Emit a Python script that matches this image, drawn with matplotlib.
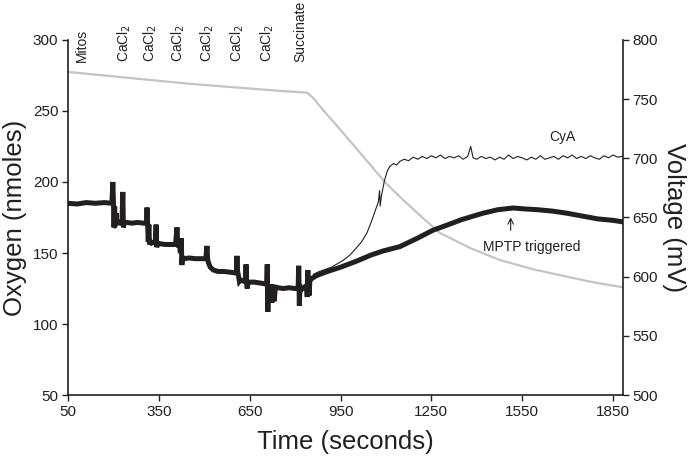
import matplotlib.pyplot as plt

plt.rcParams['font.family'] = ['Liberation Sans', 'DejaVu Sans']

# oxygen trace (nmoles), thick black
oxy_t = [50, 80, 110, 140, 170, 195, 198, 200, 202, 204, 206, 209, 211, 215, 222, 228, 231, 233, 235,
         245, 260, 280, 300, 309, 311, 313, 315, 317, 319, 322, 326, 332, 338, 341, 343, 345, 355, 370,
         390, 405, 410, 412, 415, 418, 421, 424, 426, 428, 433, 450, 470, 490, 505, 509, 511, 514, 520,
         530, 545, 565, 585, 600, 606, 608, 610, 613, 616, 620, 626, 632, 636, 638, 640, 642, 644, 650,
         665, 680, 695, 706, 708, 710, 712, 716, 719, 723, 727, 731, 735, 745, 760, 780, 800, 810, 812,
         814, 816, 820, 830, 838, 840, 842, 844, 846, 849, 855, 870, 900, 950, 1000, 1050, 1090, 1146,
         1200, 1255, 1300, 1350, 1420, 1470, 1520, 1560, 1600, 1650, 1698, 1750, 1800, 1850, 1880]
oxy_v = [185, 184.5, 185.5, 185, 185.5, 185, 200, 186, 168, 183, 169, 178, 171, 172, 171, 171, 193, 168, 171,
         171.5, 171, 171.5, 171, 171, 182, 171, 158, 170, 156, 158, 157, 157.5, 157, 170, 154, 157, 156.5, 156,
         156, 156, 168, 157, 154, 158, 150, 160.5, 141.5, 147, 146, 146.5, 146, 146, 146, 155, 146, 143, 140,
         138, 137, 137, 136.5, 136, 136, 148, 137, 134, 130, 131, 130.5, 130, 130, 142, 128, 125, 129, 129.5,
         129.5, 129, 128.5, 128, 142, 108.5, 127, 116, 128, 115, 127, 116, 126, 125.5, 125, 125.5, 125, 125, 141,
         113, 126, 124, 126, 127, 119, 138, 127, 120, 131, 132, 134, 136.5, 140, 144, 148.5, 151.4, 154.5,
         160, 166, 169.5, 173.5, 178, 180.5, 181.7, 181, 180.5, 179.5, 178, 176, 174, 173, 172]

# CyA trace (nmoles), thin black
cya_t = [860, 880, 900, 920, 940, 960, 981, 1000, 1020, 1037, 1050, 1065, 1075, 1079, 1081, 1085, 1095,
         1105, 1113, 1125, 1135, 1146, 1160, 1175, 1190, 1205, 1220, 1235, 1250, 1265, 1280, 1295, 1310,
         1325, 1340, 1355, 1370, 1380, 1388, 1400, 1415, 1430, 1445, 1460, 1475, 1490, 1505, 1520, 1535,
         1550, 1565, 1580, 1595, 1610, 1625, 1640, 1655, 1670, 1685, 1700, 1715, 1730, 1745, 1760, 1775,
         1790, 1805, 1820, 1835, 1850, 1865, 1880]
cya_v = [135, 137, 138.5, 140, 142.5, 145, 148.6, 153, 158, 164, 171, 180, 186, 194, 183, 190, 201,
         208, 211, 213, 212, 214.5, 216, 215, 217.5, 216, 218, 216.5, 218.5, 217, 219, 216.5, 218,
         217, 218.5, 216, 218, 225, 217, 216, 218, 216.5, 217.5, 215.5, 217.5, 216, 219, 216.5, 218,
         217, 215.5, 217.5, 216, 218.5, 216, 217, 218, 216, 218.5, 217, 219, 216.5, 218, 216.5, 218.5,
         217, 216, 218.5, 217, 219, 217.5, 218]

# membrane voltage (mV), grey, right axis
volt_t = [50, 150, 250, 350, 450, 550, 650, 750, 839, 860, 882, 950, 1020, 1100, 1156, 1220, 1278,
          1380, 1477, 1590, 1698, 1790, 1883]
volt_v = [773, 770.5, 768, 765.5, 763, 761, 759, 757, 755.5, 751, 744, 724, 703, 679, 665, 650, 637,
          624, 614, 606, 600, 595, 591]

# additions marked along the top
add_t = [96, 235, 321, 413, 509, 608, 707, 816]
add_lbl = ['Mitos', 'CaCl$_2$', 'CaCl$_2$', 'CaCl$_2$', 'CaCl$_2$', 'CaCl$_2$', 'CaCl$_2$', 'Succinate']

ink = '#231f20'

fig = plt.figure(figsize=(6.94, 4.59), dpi=100)
ax = fig.add_axes([0.098, 0.1394, 0.7997, 0.7735])
ax2 = ax.twinx()
ax.set_zorder(ax2.get_zorder() + 1)
ax.patch.set_visible(False)

ax2.plot(volt_t, volt_v, color='#c4c4c4', lw=1.6)
ax.plot(cya_t, cya_v, color=ink, lw=0.8)
ax.plot(oxy_t, oxy_v, color=ink, lw=3.6, solid_joinstyle='miter')

ax.set_xlim(50, 1883)
ax.set_ylim(50, 300)
ax2.set_ylim(500, 800)
ax.set_xticks(range(50, 1851, 300))
ax.set_yticks(range(50, 301, 50))
ax2.set_yticks(range(500, 801, 50))

for a in (ax, ax2):
    a.spines['top'].set_visible(False)
    for s in a.spines.values():
        s.set_color(ink)
        s.set_linewidth(1.2)
    a.tick_params(direction='out', length=4, width=1, color=ink, labelcolor=ink, labelsize=11, pad=3)
ax.spines['right'].set_visible(False)
ax2.spines['left'].set_visible(False)
ax2.spines['bottom'].set_visible(False)

ax.set_xlabel('Time (seconds)', fontsize=18.5, color=ink, labelpad=8)
ax.set_ylabel('Oxygen (nmoles)', fontsize=18.5, color=ink, labelpad=4)
ax2.set_ylabel('Voltage (mV)', fontsize=18.5, color=ink, rotation=270, labelpad=20)

for t, lbl in zip(add_t, add_lbl):
    ax.text(t, 284.5, lbl, rotation=90, ha='center', va='bottom', fontsize=10, color=ink, clip_on=False)

ax.text(1684, 231.7, 'CyA', ha='center', va='center', fontsize=10, color=ink)
ax.text(1582, 154, 'MPTP triggered', ha='center', va='center', fontsize=10, color=ink)
ax.annotate('', xy=(1512, 177), xytext=(1512, 164),
            arrowprops=dict(arrowstyle='->', color=ink, lw=0.8))

fig.savefig('out.png', dpi=100)
